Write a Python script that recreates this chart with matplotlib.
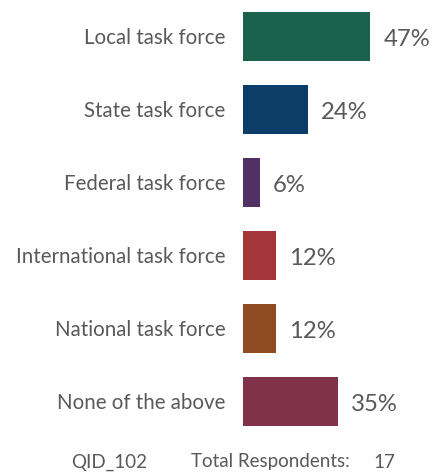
import numpy as np
import matplotlib.pyplot as plt

plt.rcParams['font.family'] = ['Lato', 'DejaVu Sans']

# Data
categories = ['Local task force', 'State task force', 'Federal task force',
              'International task force', 'National task force', 'None of the above']
values = [47, 24, 6, 12, 12, 35]
colors = ['#1B624D', '#0C3C68', '#513163', '#A43639', '#914B23', '#82314B']
question_id = 'QID_102'
total_respondents = 17

text_grey = '#595959'

fig = plt.figure(figsize=(4.32, 4.74), dpi=100)
# axes placed so that bars start at x=243 px
ax = fig.add_axes([243.3 / 432, 0.0, 1 - 243.3 / 432, 1.0])

y = np.arange(len(categories))
ax.barh(y, values, height=0.66, color=colors)

# pixel-ish scaling: ~2.7 px per percent
ax.set_xlim(0, (432 - 243.3) / 2.7)
pitch = 73.0
first_center = 36.5
ax.set_ylim((474 - first_center) / pitch, -first_center / pitch)

ax.set_yticks(y)
ax.set_yticklabels(categories, fontsize=14.8, color=text_grey)
ax.tick_params(axis='y', length=0, pad=13)
ax.set_xticks([])
for s in ax.spines.values():
    s.set_visible(False)

for yi, v in zip(y, values):
    ax.annotate(f'{v}%', xy=(v, yi), xytext=(9.4, -2.2), textcoords='offset points',
                ha='left', va='center', fontsize=17.2, color=text_grey)

fy = 1 - 462 / 474
fig.text(71 / 432, fy, question_id, ha='left', va='center',
         fontsize=13.5, color=text_grey)
fig.text(191 / 432, fy, 'Total Respondents:', ha='left', va='center',
         fontsize=13.5, color=text_grey)
fig.text(373 / 432, fy, str(total_respondents), ha='left', va='center',
         fontsize=13.5, color=text_grey)

fig.savefig('out.png', dpi=100)
